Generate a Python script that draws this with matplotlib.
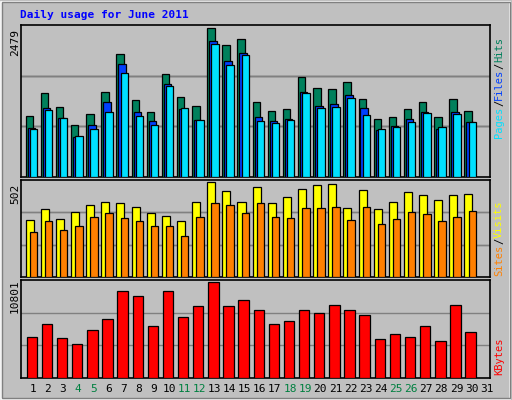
import numpy as np
import matplotlib
matplotlib.use("Agg")
import matplotlib.pyplot as plt
from matplotlib.patches import Rectangle

days = list(range(1, 32))
weekends = [4, 5, 11, 12, 18, 19, 25, 26]

hits = [1012, 1405, 1169, 866, 1051, 1422, 2046, 1281, 1079, 1709, 1332, 1180, 2479,
        2192, 2293, 1248, 1096, 1130, 1658, 1473, 1456, 1574, 1304, 967, 1000, 1130,
        1248, 1000, 1304, 1096]
files = [815, 1152, 989, 669, 866, 1248, 1878, 1079, 928, 1540, 1130, 950, 2265,
         1928, 2062, 990, 928, 962, 1422, 1186, 1220, 1371, 1152, 781, 849, 962,
         1079, 798, 1079, 911]
pages = [798, 1118, 989, 686, 798, 1085, 1726, 1011, 860, 1506, 1152, 950, 2214,
         1861, 2029, 939, 894, 945, 1405, 1152, 1169, 1321, 1034, 798, 832, 911,
         1062, 832, 1045, 922]
visits = [300, 360, 306, 344, 382, 398, 393, 371, 338, 322, 295, 398, 502, 453,
          398, 475, 393, 420, 464, 486, 491, 366, 458, 360, 398, 447, 431, 404,
          431, 436]
sites = [235, 295, 246, 268, 317, 338, 311, 295, 268, 268, 218, 317, 388, 382,
         338, 393, 317, 311, 366, 366, 371, 300, 371, 278, 306, 344, 333, 295,
         317, 349]
kbytes = [4652, 6071, 4533, 3824, 5361, 6662, 9737, 9264, 5834, 9737, 6859, 8043,
          10801, 8043, 8753, 7688, 6071, 6426, 7688, 7333, 8161, 7688, 7097, 4376,
          4967, 4612, 5834, 4139, 8161, 5203]

BG = "#c0c0c0"
fig = plt.figure(figsize=(5.12, 4.0), dpi=100, facecolor=BG)
W, H = 512, 400
mono = "DejaVu Sans Mono"

# outer bevel
fig.add_artist(Rectangle((1 / W, 1 / H), 509 / W, 397 / H, transform=fig.transFigure,
                         fill=False, edgecolor="white", lw=1.2))
fig.add_artist(Rectangle((2 / W, 2 / H), 508 / W, 396 / H, transform=fig.transFigure,
                         fill=False, edgecolor="#808080", lw=1.0))

fig.text(20 / W, 1 - 15 / H, "Daily usage for June 2011", color="#0000ff",
         family=mono, fontsize=8, fontweight="bold", va="center")


def panel(top, bottom):
    ax = fig.add_axes([21 / W, 1 - bottom / H, 469 / W, (bottom - top) / H])
    ax.set_facecolor(BG)
    ax.set_xlim(0, 31)
    ax.set_xticks([])
    ax.set_yticks([])
    for s in ax.spines.values():
        s.set_linewidth(1.2)
    return ax


def bars(ax, values, off, width, color, ymax):
    x = np.arange(len(values)) + off
    ax.bar(x, values, width=width, align="edge", color=color,
           edgecolor="black", linewidth=0.9, zorder=3)
    ax.set_ylim(0, ymax * 1.02)
    for f in (1 / 3, 2 / 3):
        ax.axhline(ymax * 1.02 * f, color="#808080", lw=1, zorder=1)


ax1 = panel(25, 177)
bars(ax1, hits, 0.31, 0.49, "#00805c", 2479)
bars(ax1, files, 0.44, 0.49, "#0040ff", 2479)
bars(ax1, pages, 0.58, 0.49, "#00e0ff", 2479)

ax2 = panel(180, 277)
bars(ax2, visits, 0.31, 0.53, "#ffff00", 502)
bars(ax2, sites, 0.58, 0.49, "#ff8000", 502)

ax3 = panel(280, 378)
bars(ax3, kbytes, 0.37, 0.69, "#ff0000", 10801)

for d in days:
    fig.text((21 + (d - 1 + 0.78) * 469 / 31) / W, 1 - 389 / H, str(d),
             color="#008040" if d in weekends else "black",
             family=mono, fontsize=8, ha="center", va="center")

for y, v in [(43, "2479"), (194, "502"), (296, "10801")]:
    fig.text(15 / W, 1 - y / H, v, rotation=90, family=mono, fontsize=8,
             ha="center", va="center")


def side_label(ypix, parts):
    # stacked rotated text, reading bottom to top
    y = ypix
    for txt, col in parts:
        fig.text(499 / W, 1 - y / H, txt, rotation=90, color=col, family=mono,
                 fontsize=7.5, ha="center", va="bottom")
        y -= len(txt) * 6.3


side_label(138, [("Pages", "#00e0ff"), ("/", "black"), ("Files", "#0040ff"),
                 ("/", "black"), ("Hits", "#00805c")])
side_label(276, [("Sites", "#ff8000"), ("/", "black"), ("Visits", "#ffff00")])
side_label(375, [("KBytes", "#ff0000")])

fig.savefig("out.png", dpi=100, facecolor=BG)
